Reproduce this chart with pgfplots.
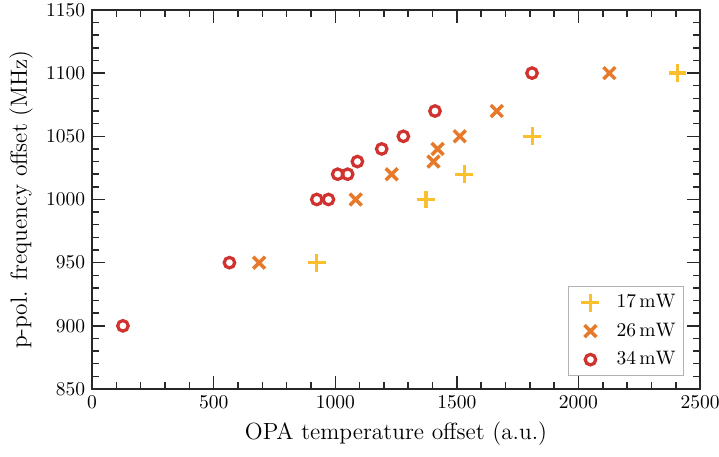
\documentclass[border=0pt]{standalone}
\usepackage{pgfplots}
\pgfplotsset{compat=1.18}
\definecolor{cyel}{RGB}{251,190,45}
\definecolor{cora}{RGB}{230,122,42}
\definecolor{cred}{RGB}{208,50,48}
\definecolor{axc}{RGB}{40,40,40}
\begin{document}
\begin{tikzpicture}
\begin{axis}[
  scale only axis,
  width=311.8pt, height=194.4pt,
  xmin=0, xmax=2500, ymin=850, ymax=1150,
  xtick={0,500,...,2500}, ytick={850,900,...,1150},
  minor x tick num=4, minor y tick num=4,
  tick align=inside,
  major tick length=6.7pt, minor tick length=3.6pt,
  every tick/.style={axc, line width=0.75pt},
  axis line style={axc, line width=1pt},
  xticklabel style={/pgf/number format/1000 sep={}},
  yticklabel style={/pgf/number format/1000 sep={}},
  xlabel={OPA temperature offset (a.u.)},
  ylabel={p-pol. frequency offset (MHz)},
  label style={font=\large},
  legend style={draw=gray!60, line width=0.6pt, at={(0.974,0.034)}, anchor=south east, inner sep=2pt, row sep=2.3pt},
  legend cell align=left,
  legend image code/.code={\pgfpathrectangle{\pgfpoint{-9.3pt}{-1pt}}{\pgfpoint{20.7pt}{2pt}}\pgfusepath{use as bounding box}\draw plot coordinates {(0pt,0pt)};},
]
\addplot[only marks, mark=+, mark size=4.6pt, line width=1.7pt, color=cyel] coordinates {
 (924,950) (1373,1000) (1531,1020) (1810,1050) (2407,1100)
};
\addlegendentry{$17\,\mathrm{mW}$}
\addplot[only marks, mark=x, mark size=4.3pt, line width=1.8pt, color=cora] coordinates {
 (687,950) (1084,1000) (1232,1020) (1404,1030) (1421,1040) (1512,1050) (1664,1070) (2127,1100)
};
\addlegendentry{$26\,\mathrm{mW}$}
\addplot[only marks, mark=o, mark size=2.7pt, line width=1.65pt, color=cred] coordinates {
 (127,900) (565,950) (924,1000) (972,1000) (1010,1020) (1051,1020) (1091,1030) (1191,1040) (1280,1050) (1410,1070) (1809,1100)
};
\addlegendentry{$34\,\mathrm{mW}$}
\end{axis}
\pgfresetboundingbox
\path[use as bounding box] ([xshift=-47.2pt,yshift=-34.4pt]current axis.south west) rectangle ([xshift=9.7pt,yshift=5.1pt]current axis.north east);
\end{tikzpicture}
\end{document}
